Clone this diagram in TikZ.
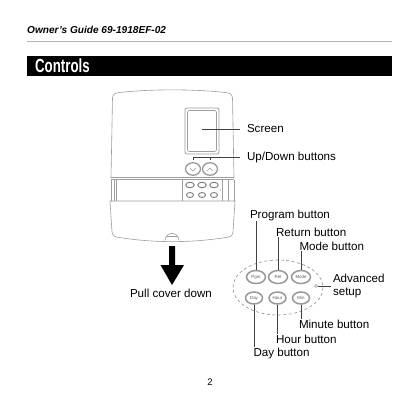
\documentclass[tikz,border=0pt]{standalone}
\usepackage{fontspec}
\setmainfont{Liberation Sans}
\usetikzlibrary{calc,shapes.geometric}
\definecolor{bodyline}{gray}{0.62}
\definecolor{btnline}{gray}{0.6}
\tikzset{
  lbl/.style={anchor=west,inner sep=0pt,outer sep=1pt,font=\fontsize{11.6}{13}\selectfont,text=black},
  devline/.style={draw=bodyline,line width=0.6pt},
  leader/.style={draw=black!75,line width=0.7pt},
  bigbtn/.style={ellipse,draw=btnline,line width=1.5pt,minimum width=19pt,minimum height=13pt,inner sep=0pt,font=\fontsize{4.4}{5}\selectfont,text=black!65},
  minibtn/.style={ellipse,draw=btnline!80!black,line width=0.9pt,inner sep=0pt},
  updown/.style={ellipse,draw=btnline,line width=1.3pt,inner sep=0pt,minimum width=15pt,minimum height=12.5pt},
}
\begin{document}
\begin{tikzpicture}[x=1pt,y=-1pt]
\useasboundingbox[fill=white] (0,0) rectangle (420,420);
% header
\node[anchor=west,inner sep=0pt,font=\bfseries\itshape\fontsize{10.1}{12}\selectfont] (hdr) at (27,30) {Owner's Guide 69-1918EF-02};
\draw[draw=black!30,line width=0.6pt] (27,41) coordinate (ruleL) -- (392,41) coordinate (ruleR);
\fill[black] (27,56) rectangle (392,76);
\node[anchor=west,inner sep=0pt,text=white,font=\bfseries\fontsize{19}{21}\selectfont,xscale=0.7] (title) at (35,65.5) {Controls};
% device body
\draw[devline] (111,178) -- (112.5,98) .. controls (113,94) and (115,93) .. (120,92.5)
  .. controls (150,89) and (195,89) .. (225,92.5) .. controls (230,93) and (232,94) .. (232.5,98) -- (234,178);
\draw[devline] (111,177) -- (234,177);
\draw[devline] (111,179.5) -- (234,179.5);
\draw[devline] (111,179.5) -- (111,201);
\draw[devline] (234,179.5) -- (234,201);
\draw[devline] (114,179.5) -- (114,201);
\draw[devline] (116,179.5) -- (116,201);
\draw[devline] (182,179.5) -- (182,201);
\draw[devline] (222,179.5) -- (222,201);
\draw[devline] (228,179.5) -- (228,201);
% cover
\draw[devline] (110,201) -- (235,201) -- (233,232) .. controls (232.5,236) and (230,237) .. (226,237.5)
  .. controls (190,243) and (155,243) .. (119,237.5) .. controls (115,237) and (112.5,236) .. (112,232) -- cycle;
\draw[devline] (165,240.5) .. controls (166,231) and (178,231) .. (179,240.5);
\draw[devline] (166,236.5) -- (178,236.5);
% screen
\draw[devline,line width=0.8pt,rounded corners=2pt] (185,108) rectangle (219,154);
\draw[devline,line width=0.6pt,rounded corners=1.5pt] (187.5,110.5) rectangle (216.5,151.5);
\coordinate (scr) at (202,129);
% up down buttons
\node[updown] (dn) at (193,169) {};
\node[updown] (up) at (210,169) {};
\draw[btnline,line width=0.6pt] (190,168) -- (193,171) -- (196,168);
\draw[btnline,line width=0.6pt] (207,171) -- (210,168) -- (213,171);
% keypad
\foreach \n/\x/\y/\w/\h in {ka/190/185/8.5/5.5,kb/202/185/8.5/5.5,kc/214/185/8.5/5.5,kd/190/195/7/5,ke/202/195/7/5,kf/214/195/7/5}
  \node[minibtn,minimum width=\w pt,minimum height=\h pt] (\n) at (\x,\y) {};
\fill[bodyline] (220.5,190) circle (0.6);
% screen labels
\node[lbl] (lscr) at (246,129) {Screen};
\node[lbl] (lud) at (246,157.5) {Up/Down buttons};
\draw[leader] (scr) -- ($(lscr.west)+(-6,0)$);
\coordinate (udl) at (193,157.5);
\coordinate (udr) at (210,157.5);
\draw[leader] (udl) -- ($(lud.west)+(-6,0)$);
\draw[leader,line width=0.5pt] (udl) -- ++(0,2.5);
\draw[leader,line width=0.5pt] (udr) -- ++(0,2.5);
% arrow
\fill[black] (169,246) -- (175,246) -- (175,265) -- (184,265) -- (172,285) -- (160.5,265) -- (169,265) -- cycle;
\node[lbl] (lpull) at (129,293) {Pull cover down};
% callout
\draw[draw=black!45,line width=0.6pt,dash pattern=on 3pt off 2.5pt] (278,287.5) ellipse [x radius=45,y radius=27.5];
\node[bigbtn] (pgm) at (256,277) {Pgm};
\node[bigbtn] (ret) at (278,277) {Ret};
\node[bigbtn] (mode) at (301,277) {Mode};
\node[bigbtn,minimum width=17pt,minimum height=12pt] (day) at (254,298) {Day};
\node[bigbtn,minimum width=17pt,minimum height=12pt] (hour) at (277.5,298) {Hour};
\node[bigbtn,minimum width=17pt,minimum height=12pt] (minb) at (301,298) {Min};
\node[circle,draw=btnline,line width=0.5pt,minimum size=3pt,inner sep=0pt] (adv) at (316,286) {};
\node[lbl] (lpgm) at (249,215) {Program button};
\node[lbl] (lret) at (275,232) {Return button};
\node[lbl] (lmode) at (298.5,246) {Mode button};
\node[lbl] (lmin) at (298,324) {Minute button};
\node[lbl] (lhour) at (275,339) {Hour button};
\node[lbl] (lday) at (252.5,353) {Day button};
\node[lbl] (ladv) at (332,278) {Advanced};
\node[lbl] (lsetup) at (332,293) {setup};
\draw[leader] (pgm.north) -- (pgm.north |- lpgm.south);
\draw[leader] (ret.north) -- (ret.north |- lret.south);
\draw[leader] (mode.north) -- (mode.north |- lmode.south);
\draw[leader] (day.south) -- (day.south |- lday.north);
\draw[leader] (hour.south) -- (hour.south |- lhour.north);
\draw[leader] (minb.south) -- (minb.south |- lmin.north);
\draw[leader,line width=0.5pt] (adv.east) -- ($(adv.east)+(13,0)$);
\node[anchor=center,inner sep=0pt,font=\fontsize{9.5}{11}\selectfont] (pg) at (210,382) {2};
\end{tikzpicture}
\end{document}
